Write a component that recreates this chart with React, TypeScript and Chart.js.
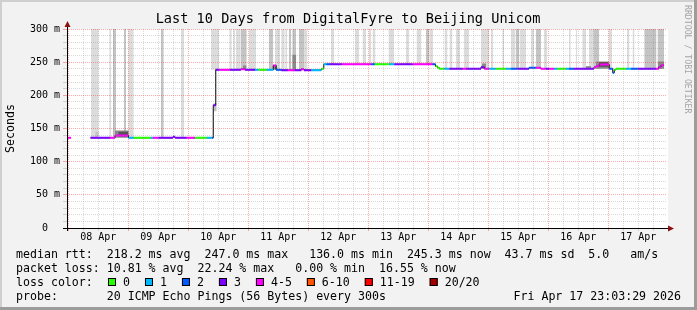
import { useEffect, useRef } from 'react';
import { Chart, registerables } from 'chart.js';

Chart.register(...registerables);

const MONO = '"DejaVu Sans Mono", monospace';

const chartTitle = 'Last 10 Days from DigitalFyre to Beijing Unicom';
const yAxisTitle = 'Seconds';
const watermark = 'RRDTOOL / TOBI OETIKER';

// x axis: hours since 08 Apr 00:00
const xMin = -0.5;
const xMax = 239.5;
const yMin = 0;
const yMax = 300;
const dayLabels = ['08 Apr', '09 Apr', '10 Apr', '11 Apr', '12 Apr', '13 Apr', '14 Apr', '15 Apr', '16 Apr', '17 Apr'];

const lossColors = ['#26ff00', '#00b8ff', '#0059ff', '#7e00ff', '#ff00ff', '#ff5500', '#ff0000', '#a10000'];
const lossLabels = ['0', '1', '2', '3', '4-5', '6-10', '11-19', '20/20'];

// median rtt (ms), each value holds from its start hour until the next start
const medianStart = [
  -0.5, 1.1, 8.9, 16.7, 18.7, 24.1, 26.2, 32.9, 33.9, 36.0, 41.9, 42.7, 47.4, 50.7, 55.4, 57.4, 58.0,
  59.0, 60.4, 64.7, 69.0, 70.7, 74.7, 76.0, 79.4, 82.0, 83.1, 85.2, 87.9, 90.6, 93.2, 94.3, 97.2, 101.2,
  102.2, 103.2, 104.7, 109.5, 121.2, 122.6, 128.4, 130.4, 137.8, 145.8, 146.9, 147.7, 148.4, 150.4, 152.4,
  157.8, 159.1, 165.1, 166.4, 168.4, 171.0, 175.0, 177.0, 179.6, 184.3, 187.0, 189.0, 191.0, 192.3, 194.3,
  195.6, 199.0, 200.3, 202.3, 210.3, 211.1, 212.4, 216.4, 217.8, 218.4, 219.1, 223.1, 225.1, 227.8, 235.1,
  236.2, 237.1,
];
const medianEnd = 238.2;
const medianMs = [
  136.0, null, 136.0, 136.0, 139.5, 136.0, 136.0, 136.0, 136.0, 136.0, 137.5, 136.0, 136.0, 136.0, 136.0, 136.0, 185.0,
  238.5, 238.5, 238.5, 239.5, 238.5, 238.5, 238.5, 238.5, 245.0, 238.5, 238.0, 238.0, 238.0, 239.5, 238.0, 238.0, 240.0,
  246.8, 246.8, 246.8, 246.8, 246.8, 246.8, 246.8, 246.8, 246.8, 246.8, 243.7, 241.7, 240.2, 240.2, 240.2,
  240.2, 240.2, 242.5, 240.2, 240.2, 240.2, 240.2, 240.2, 240.2, 241.7, 241.7, 240.2, 240.2, 240.2, 240.2,
  240.2, 240.2, 240.2, 240.2, 242.5, 244.0, 246.5, 240.2, 234.0, 238.6, 240.2, 240.2, 240.2, 240.2, 240.2,
  242.5, 245.3,
];
const medianLoss = [
  4, 0, 3, 4, 4, 1, 0, 1, 4, 3, 3, 3, 4, 0, 1, 2, 3,
  3, 4, 3, 4, 3, 1, 0, 1, 4, 2, 3, 4, 3, 4, 3, 1, 0,
  1, 2, 3, 4, 2, 0, 1, 3, 4, 2, 0, 0, 0, 1, 3,
  4, 3, 3, 4, 1, 0, 1, 2, 3, 2, 4, 4, 3, 4, 1,
  0, 1, 2, 3, 4, 4, 4, 2, 2, 0, 0, 1, 2, 3, 4,
  4, 4,
];

// smoke: start hour, end hour, low ms, high ms, shade
const smokeStart = [
  9.1, 10.8, 16.4, 17.9, 22.2, 24.0, 37.0, 45.1, 18.6, 20.0, 57.1, 58.0, 64.4, 66.0, 67.1, 69.0, 69.9, 72.3,
  80.2, 81.9, 82.7, 85.2, 86.8, 88.2, 89.6, 89.6, 92.2, 94.6, 105.1, 114.7, 117.7, 120.3, 121.7, 128.1, 135.1,
  139.3, 143.1, 144.4, 150.5, 152.5, 155.1, 158.3, 165.1, 165.5, 169.0, 173.6, 177.0, 179.0, 180.5, 185.0,
  187.0, 190.3, 200.3, 203.0, 205.6, 208.3, 210.3, 207.1, 211.1, 212.3, 216.1, 223.5, 225.7, 230.4, 235.7, 235.8,
];
const smokeEnd = [
  12.2, 12.2, 17.2, 19.1, 23.1, 26.2, 38.2, 46.3, 24.2, 24.0, 60.3, 59.4, 65.4, 66.7, 69.0, 71.4, 71.3, 75.1,
  82.0, 83.5, 84.7, 86.6, 87.6, 89.2, 91.2, 91.2, 94.6, 95.7, 106.4, 116.3, 119.1, 121.1, 122.9, 130.3, 136.4,
  141.3, 144.4, 145.9, 151.7, 153.7, 156.7, 160.3, 168.3, 167.1, 170.0, 174.3, 178.9, 180.3, 183.1, 186.3,
  189.1, 191.6, 201.0, 203.6, 207.1, 210.3, 212.4, 209.1, 216.4, 215.9, 217.5, 224.5, 226.5, 235.3, 238.3, 238.4,
];
const smokeLow = [
  136, 136, 136, 136, 136, 136, 136, 136, 136, 138, 238.5, 176, 238.5, 238.5, 238.5, 238.5, 238.5, 238.5,
  238.5, 238.5, 238.5, 238, 238, 238, 238, 238, 238, 238, 246.8, 246.8, 246.8, 246.8, 246.8, 246.8, 246.8,
  246.8, 246.8, 246.8, 240.2, 240.2, 240.2, 240.2, 240.2, 240.2, 240.2, 240.2, 240.2, 240.2, 240.2, 240.2,
  240.2, 240.2, 240.2, 240.2, 240.2, 240.2, 240.2, 240.2, 240.2, 243, 240.2, 240.2, 240.2, 240.2, 240.2, 240.2,
];
const smokeHigh = [
  300, 145, 300, 300, 300, 300, 300, 300, 147, 145, 300, 188, 300, 300, 300, 300, 245, 300,
  300, 246, 300, 300, 300, 300, 300, 261, 300, 300, 300, 300, 300, 300, 300, 300, 300,
  300, 300, 300, 300, 300, 300, 300, 300, 248, 300, 300, 300, 300, 300, 300,
  300, 300, 300, 300, 300, 300, 300, 244, 251, 250, 300, 300, 300, 300, 300, 251,
];
const smokeShade = [
  0, 1, 0, 1, 1, 0, 1, 0, 2, 3, 0, 1, 0, 0, 0, 1, 2, 0,
  1, 2, 0, 0, 0, 1, 1, 2, 1, 0, 0, 0, 0, 0, 0, 0, 0,
  0, 1, 0, 0, 0, 0, 0, 0, 2, 0, 0, 0, 1, 0, 0,
  1, 0, 0, 0, 0, 0, 1, 2, 2, 3, 0, 0, 0, 1, 1, 2,
];
const smokeColors = ['#dcdcdc', '#c4c4c4', '#8a8a8a', '#555555'];

const rttLegend = 'median rtt:  218.2 ms avg  247.0 ms max   136.0 ms min  245.3 ms now  43.7 ms sd  5.0   am/s';
const lossLegend = 'packet loss: 10.81 % avg  22.24 % max   0.00 % min  16.55 % now';
const colorLegend = 'loss color:';
const probeLegend = 'probe:       20 ICMP Echo Pings (56 Bytes) every 300s';
const stampLegend = 'Fri Apr 17 23:03:29 2026';

const MAJOR = 'rgba(255,0,0,0.33)';
const MINOR = 'rgba(120,120,120,0.28)';

type Pt = { x: number; y: number | null };

function buildDatasets() {
  const sets: any[] = [];
  // coloured median segments
  for (let c = 0; c < lossColors.length; c++) {
    const pts: Pt[] = [];
    medianStart.forEach((s, i) => {
      const v = medianMs[i];
      if (v === null || medianLoss[i] !== c) return;
      const e = i + 1 < medianStart.length ? medianStart[i + 1] : medianEnd;
      pts.push({ x: s, y: v }, { x: e, y: v }, { x: e, y: null });
    });
    if (pts.length) {
      sets.push({
        data: pts, borderColor: lossColors[c], borderWidth: 2, pointRadius: 0,
        fill: false, order: 0, borderCapStyle: 'butt', spanGaps: false,
      });
    }
  }
  // black step line
  const blk: Pt[] = medianStart.map((s, i) => ({ x: s, y: medianMs[i] }));
  blk.push({ x: medianEnd, y: medianMs[medianMs.length - 1] });
  sets.push({ data: blk, stepped: true, borderColor: '#000000', borderWidth: 1, pointRadius: 0, fill: false, order: 1, spanGaps: false });
  // smoke
  smokeColors.forEach((col, s) => {
    const idx = smokeStart.map((_, i) => i).filter((i) => smokeShade[i] === s).sort((a, b) => smokeStart[a] - smokeStart[b]);
    const lo: Pt[] = [];
    const hi: Pt[] = [];
    idx.forEach((i) => {
      lo.push({ x: smokeStart[i], y: smokeLow[i] }, { x: smokeEnd[i], y: smokeLow[i] }, { x: smokeEnd[i], y: null });
      hi.push({ x: smokeStart[i], y: smokeHigh[i] }, { x: smokeEnd[i], y: smokeHigh[i] }, { x: smokeEnd[i], y: null });
    });
    const order = 2 + (smokeColors.length - 1 - s);
    sets.push({ data: lo, borderWidth: 0, borderColor: 'transparent', pointRadius: 0, fill: false, order, spanGaps: false });
    sets.push({ data: hi, borderWidth: 0, borderColor: 'transparent', backgroundColor: col, pointRadius: 0, fill: '-1', order, spanGaps: false });
  });
  return sets;
}

const framePlugin = {
  id: 'rrdFrame',
  beforeDraw(chart: any) {
    const { ctx, chartArea: a, width, height } = chart;
    ctx.save();
    ctx.fillStyle = '#f2f2f2';
    ctx.fillRect(0, 0, width, height);
    ctx.fillStyle = '#cfcfcf';
    ctx.fillRect(0, 0, width, 2);
    ctx.fillRect(0, 0, 2, height);
    ctx.fillStyle = '#9c9c9c';
    ctx.fillRect(0, height - 3, width, 3);
    ctx.fillRect(width - 3, 0, 3, height);
    ctx.fillStyle = '#ffffff';
    ctx.fillRect(a.left, a.top, a.right - a.left + 1, a.bottom - a.top);
    ctx.restore();
  },
  afterDraw(chart: any) {
    const { ctx, chartArea: a } = chart;
    ctx.save();
    // axes
    ctx.strokeStyle = '#000';
    ctx.lineWidth = 1;
    ctx.beginPath();
    ctx.moveTo(a.left + 0.5, a.bottom + 3);
    ctx.lineTo(a.left + 0.5, a.top - 4);
    ctx.moveTo(a.left - 4, a.bottom + 0.5);
    ctx.lineTo(a.right + 3, a.bottom + 0.5);
    ctx.stroke();
    ctx.fillStyle = '#8b1010';
    ctx.beginPath();
    ctx.moveTo(a.left - 2.5, a.top - 2);
    ctx.lineTo(a.left + 3.5, a.top - 2);
    ctx.lineTo(a.left + 0.5, a.top - 8);
    ctx.closePath();
    ctx.fill();
    ctx.beginPath();
    ctx.moveTo(a.right + 1, a.bottom - 2.5);
    ctx.lineTo(a.right + 1, a.bottom + 3.5);
    ctx.lineTo(a.right + 7, a.bottom + 0.5);
    ctx.closePath();
    ctx.fill();

    // title
    ctx.fillStyle = '#000';
    ctx.font = `13.6px ${MONO}`;
    ctx.textAlign = 'center';
    ctx.textBaseline = 'alphabetic';
    ctx.fillText(chartTitle, 348, 23);

    // legend
    ctx.font = `11.6px ${MONO}`;
    ctx.textAlign = 'left';
    ctx.fillText(rttLegend, 16, 258);
    ctx.fillText(lossLegend, 16, 272);
    ctx.fillText(colorLegend, 16, 286);
    ctx.fillText(probeLegend, 16, 300);
    ctx.textAlign = 'right';
    ctx.fillText(stampLegend, 681, 300);
    ctx.textAlign = 'left';
    let x = 108;
    lossLabels.forEach((lab, i) => {
      ctx.fillStyle = lossColors[i];
      ctx.fillRect(x, 278, 8, 8);
      ctx.strokeStyle = '#000';
      ctx.strokeRect(x + 0.5, 278.5, 7, 7);
      ctx.fillStyle = '#000';
      ctx.fillText(lab, x + 15, 286);
      x += 15 + ctx.measureText(lab).width + 15;
    });

    // watermark
    ctx.fillStyle = '#a4a4a4';
    ctx.font = `8.2px ${MONO}`;
    ctx.translate(687.5, 5);
    ctx.rotate(Math.PI / 2);
    ctx.textAlign = 'left';
    ctx.textBaseline = 'middle';
    ctx.fillText(watermark, 0, 0);
    ctx.restore();
  },
};

export default function App() {
  const ref = useRef<HTMLCanvasElement>(null);
  useEffect(() => {
    document.body.style.margin = '0';
    const canvas = ref.current;
    if (!canvas) return;
    const chart = new Chart(canvas, {
      type: 'line',
      data: { datasets: buildDatasets() },
      options: {
        responsive: false,
        maintainAspectRatio: false,
        animation: false,
        devicePixelRatio: 1,
        events: [],
        layout: { padding: { left: 0, right: 30, top: 29, bottom: 0 } },
        plugins: { legend: { display: false }, tooltip: { enabled: false }, title: { display: false } },
        scales: {
          x: {
            type: 'linear',
            min: xMin,
            max: xMax,
            afterFit: (s: any) => { s.height = 82; },
            afterBuildTicks: (s: any) => {
              const t: any[] = [];
              for (let h = 0; h <= xMax; h += 6) t.push({ value: h });
              s.ticks = t;
            },
            border: { display: false, dash: [1, 1] },
            grid: {
              z: 1,
              tickLength: 3,
              color: (c: any) => (c.tick && c.tick.value % 24 === 0 ? MAJOR : MINOR),
            },
            ticks: {
              autoSkip: false,
              maxRotation: 0,
              minRotation: 0,
              padding: 0,
              color: '#000',
              font: { family: MONO, size: 10 },
              callback: (v: any) => (Number(v) % 24 === 12 ? dayLabels[(Number(v) - 12) / 24] : ''),
            },
          },
          y: {
            type: 'linear',
            min: yMin,
            max: yMax,
            afterFit: (s: any) => { s.width = 67; },
            border: { display: false, dash: [1, 1] },
            grid: {
              z: 1,
              tickLength: 4,
              color: (c: any) => (c.tick && c.tick.value % 50 === 0 ? MAJOR : MINOR),
            },
            ticks: {
              stepSize: 10,
              autoSkip: false,
              padding: 3,
              color: '#000',
              font: { family: MONO, size: 10 },
              callback: (v: any) => {
                const n = Number(v);
                if (n % 50 !== 0) return '';
                return n === 0 ? '0  ' : `${n} m`;
              },
            },
            title: {
              display: true,
              text: yAxisTitle,
              color: '#000',
              font: { family: MONO, size: 11.6 },
              padding: { top: 4, bottom: 0 },
            },
          },
        },
      },
      plugins: [framePlugin],
    } as any);
    return () => chart.destroy();
  }, []);
  return <canvas ref={ref} width={697} height={310} style={{ display: 'block', width: 697, height: 310 }} />;
}
